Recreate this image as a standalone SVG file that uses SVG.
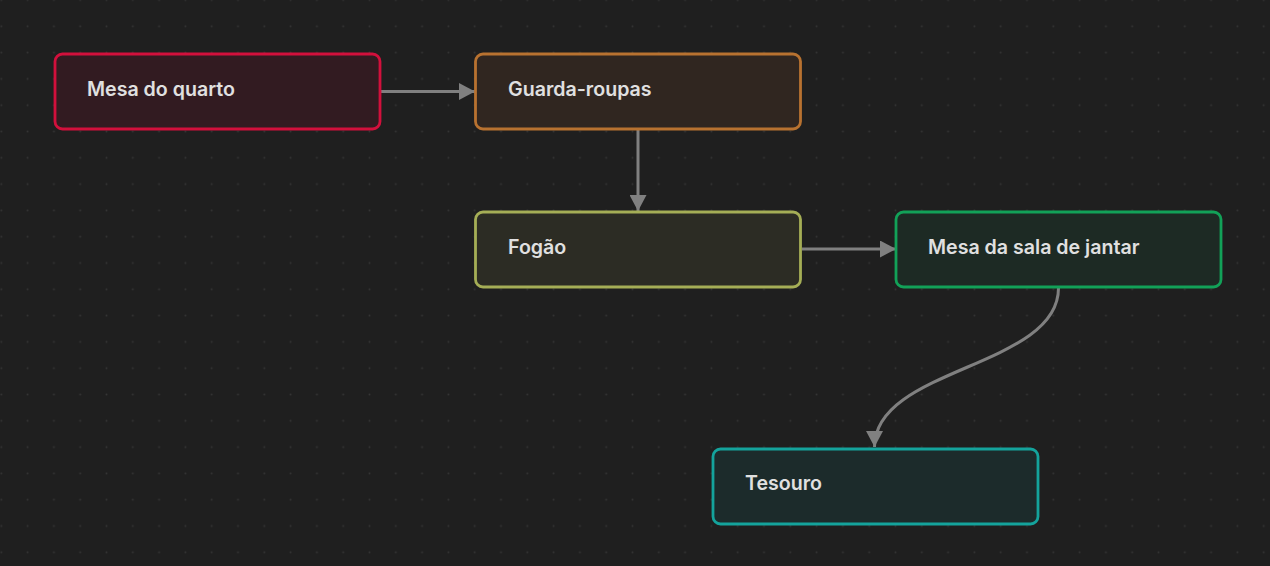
<svg xmlns="http://www.w3.org/2000/svg" width="1270" height="566" viewBox="0 0 1270 566">
<defs>
<pattern id="dots" x="-11.85" y="-13.15" width="26.3" height="26.3" patternUnits="userSpaceOnUse">
<circle cx="13.15" cy="13.15" r="0.9" fill="#353535"/>
</pattern>
<marker id="arr" viewBox="0 0 16 17" refX="16" refY="8.5" markerWidth="16" markerHeight="17" markerUnits="userSpaceOnUse" orient="auto">
<path d="M0,0 L16,8.5 L0,17 Z" fill="#808080"/>
</marker>
<style>
.node rect{stroke-width:2.8}
.node text{font-family:Inter,"Noto Sans",sans-serif;font-size:19.6px;font-weight:600;fill:#e0e0e0}
.edge{fill:none;stroke:#808080;stroke-width:3;marker-end:url(#arr)}
</style>
</defs>
<rect width="1270" height="566" fill="#1f1f1f"/>
<rect width="1270" height="566" fill="url(#dots)"/>
<g id="connectors">
<path class="edge" d="M381,91.5 L475,91.5"/>
<path class="edge" d="M638,130 L638,211"/>
<path class="edge" d="M802,249 L896,249"/>
<path class="edge" d="M1058.5,288 C1058.5,367.5 874.5,367.5 874.5,447"/>
</g>
<g id="node-mesa-quarto" class="node">
<rect x="55" y="54" width="325" height="75" rx="7.5" fill="#321b21" stroke="#d2103c"/>
<text x="87" y="96">Mesa do quarto</text>
</g>
<g id="node-guarda-roupas" class="node">
<rect x="475.5" y="54" width="325" height="75" rx="7.5" fill="#302620" stroke="#b87230"/>
<text x="508" y="96">Guarda-roupas</text>
</g>
<g id="node-fogao" class="node">
<rect x="475.5" y="212" width="325" height="75" rx="7.5" fill="#2c2c24" stroke="#a5ae56"/>
<text x="508" y="254">Fogão</text>
</g>
<g id="node-mesa-sala" class="node">
<rect x="896" y="212" width="325" height="75" rx="7.5" fill="#1d2a24" stroke="#12a158"/>
<text x="928" y="254">Mesa da sala de jantar</text>
</g>
<g id="node-tesouro" class="node">
<rect x="713" y="449" width="325" height="75" rx="7.5" fill="#1c2b2b" stroke="#14a39c"/>
<text x="745" y="490">Tesouro</text>
</g>
</svg>
